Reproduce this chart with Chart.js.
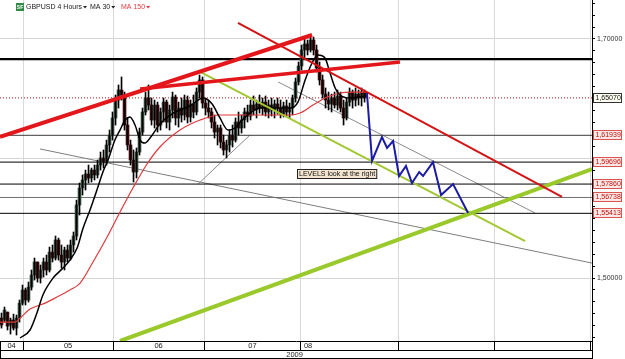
<!DOCTYPE html>
<html><head><meta charset="utf-8">
<script src="https://cdn.jsdelivr.net/npm/chart.js@4.4.1/dist/chart.umd.min.js"></script>
<style>html,body{margin:0;padding:0;background:#fff;}#wrap{width:625px;height:359px;position:relative;}</style>
</head><body><div id="wrap"><canvas id="c"></canvas></div>
<script>
// ---- data (x = bar number, y = GBPUSD price) ----
const candleOpen = [1.4665,1.4648,1.4715,1.4606,1.4648,1.4581,1.4665,1.4790,1.4899,1.4816,1.4924,1.5025,1.5134,1.5000,1.5067,1.5134,1.5067,1.5217,1.5167,1.5318,1.5192,1.5134,1.5234,1.5167,1.5276,1.5351,1.5611,1.5753,1.5820,1.5870,1.5837,1.5903,1.5862,1.5945,1.6004,1.5970,1.6113,1.6196,1.6339,1.6489,1.6573,1.6531,1.6280,1.6113,1.5987,1.5887,1.6054,1.6221,1.6389,1.6506,1.6447,1.6322,1.6447,1.6280,1.6389,1.6472,1.6305,1.6406,1.6514,1.6339,1.6422,1.6364,1.6489,1.6347,1.6456,1.6389,1.6556,1.6657,1.6464,1.6422,1.6389,1.6305,1.6221,1.6255,1.6138,1.6071,1.6113,1.6196,1.6154,1.6305,1.6255,1.6322,1.6389,1.6355,1.6447,1.6406,1.6456,1.6422,1.6472,1.6389,1.6447,1.6406,1.6456,1.6422,1.6372,1.6439,1.6389,1.6422,1.6506,1.6640,1.6774,1.6908,1.6958,1.6908,1.6991,1.6908,1.6757,1.6657,1.6539,1.6489,1.6456,1.6506,1.6447,1.6523,1.6422,1.6339,1.6472,1.6556,1.6489,1.6539,1.6506,1.6556];
const candleHigh = [1.4707,1.4757,1.4715,1.4665,1.4698,1.4690,1.4816,1.4941,1.4916,1.4966,1.5067,1.5167,1.5134,1.5109,1.5167,1.5192,1.5259,1.5276,1.5351,1.5334,1.5276,1.5259,1.5276,1.5318,1.5385,1.5652,1.5795,1.5862,1.5903,1.5945,1.5920,1.5945,1.5987,1.6054,1.6071,1.6154,1.6238,1.6389,1.6531,1.6615,1.6682,1.6556,1.6339,1.6154,1.6071,1.6088,1.6255,1.6422,1.6556,1.6615,1.6506,1.6489,1.6472,1.6422,1.6506,1.6489,1.6447,1.6556,1.6531,1.6472,1.6506,1.6531,1.6523,1.6489,1.6531,1.6590,1.6698,1.6682,1.6506,1.6489,1.6422,1.6364,1.6280,1.6280,1.6196,1.6154,1.6238,1.6280,1.6339,1.6389,1.6364,1.6422,1.6447,1.6489,1.6523,1.6489,1.6531,1.6506,1.6523,1.6489,1.6506,1.6489,1.6506,1.6489,1.6472,1.6489,1.6464,1.6531,1.6673,1.6807,1.6949,1.7008,1.6991,1.7033,1.7016,1.6949,1.6807,1.6698,1.6590,1.6556,1.6539,1.6556,1.6573,1.6556,1.6489,1.6506,1.6590,1.6573,1.6590,1.6573,1.6590,1.6573];
const candleLow = [1.4581,1.4631,1.4565,1.4531,1.4565,1.4523,1.4631,1.4774,1.4774,1.4799,1.4899,1.4983,1.4966,1.4958,1.5008,1.5025,1.5050,1.5134,1.5150,1.5150,1.5083,1.5067,1.5134,1.5150,1.5217,1.5318,1.5527,1.5694,1.5736,1.5795,1.5803,1.5820,1.5837,1.5903,1.5920,1.5945,1.6054,1.6154,1.6280,1.6422,1.6489,1.6238,1.6071,1.5945,1.5803,1.5837,1.6029,1.6196,1.6364,1.6406,1.6280,1.6255,1.6221,1.6238,1.6305,1.6255,1.6238,1.6339,1.6280,1.6263,1.6305,1.6322,1.6297,1.6305,1.6339,1.6364,1.6506,1.6422,1.6364,1.6339,1.6255,1.6171,1.6113,1.6088,1.6029,1.6004,1.6054,1.6096,1.6138,1.6196,1.6213,1.6255,1.6305,1.6322,1.6364,1.6339,1.6380,1.6364,1.6355,1.6339,1.6355,1.6339,1.6372,1.6339,1.6347,1.6355,1.6339,1.6364,1.6472,1.6615,1.6740,1.6841,1.6866,1.6891,1.6866,1.6724,1.6615,1.6506,1.6422,1.6406,1.6389,1.6422,1.6406,1.6389,1.6280,1.6322,1.6439,1.6422,1.6439,1.6447,1.6439,1.6472];
const candleClose = [1.4606,1.4732,1.4598,1.4648,1.4581,1.4665,1.4790,1.4899,1.4816,1.4924,1.5025,1.5134,1.5000,1.5067,1.5134,1.5067,1.5217,1.5167,1.5318,1.5192,1.5134,1.5234,1.5167,1.5276,1.5351,1.5611,1.5753,1.5820,1.5870,1.5837,1.5903,1.5862,1.5945,1.6004,1.5970,1.6113,1.6196,1.6339,1.6489,1.6573,1.6531,1.6280,1.6113,1.5987,1.5887,1.6054,1.6221,1.6389,1.6506,1.6447,1.6322,1.6447,1.6280,1.6389,1.6472,1.6305,1.6406,1.6514,1.6339,1.6422,1.6364,1.6489,1.6347,1.6456,1.6389,1.6556,1.6657,1.6464,1.6422,1.6389,1.6305,1.6221,1.6255,1.6138,1.6071,1.6113,1.6196,1.6154,1.6305,1.6255,1.6322,1.6389,1.6355,1.6447,1.6406,1.6456,1.6422,1.6472,1.6389,1.6447,1.6406,1.6456,1.6422,1.6372,1.6439,1.6389,1.6422,1.6506,1.6640,1.6774,1.6908,1.6958,1.6908,1.6991,1.6908,1.6757,1.6657,1.6539,1.6489,1.6456,1.6506,1.6447,1.6523,1.6422,1.6339,1.6472,1.6556,1.6489,1.6539,1.6506,1.6556,1.6507];

// moving averages [bar, price]
const ma30 = [[6.7,1.4498],[10,1.4565],[12.3,1.4707],[14.3,1.4858],[17.7,1.5000],[21,1.5083],[23.3,1.5150],[25.7,1.5251],[27.7,1.5418],[30,1.5569],[32.3,1.5736],[34.3,1.5887],[36,1.5987],[38.3,1.6154],[40,1.6238],[41.7,1.6322],[43.3,1.6347],[45,1.6280],[46.7,1.6154],[48.3,1.6129],[50,1.6171],[53.3,1.6288],[57.7,1.6380],[63.3,1.6439],[67.7,1.6506],[70.7,1.6456],[73.3,1.6339],[76,1.6238],[78.3,1.6255],[80.7,1.6322],[83.3,1.6380],[86.7,1.6422],[91.7,1.6422],[96.7,1.6422],[99.3,1.6472],[101.7,1.6657],[104,1.6799],[106,1.6866],[108.3,1.6841],[110,1.6715],[111.7,1.6590],[113.3,1.6531],[116.7,1.6506],[120,1.6514],[122.3,1.6523]];
const ma150 = [[0,1.4631],[5,1.4631],[6.7,1.4665],[10,1.4740],[15,1.4790],[19,1.4841],[23.3,1.4899],[26.7,1.4958],[31,1.5134],[35.7,1.5343],[40,1.5552],[44.3,1.5753],[49,1.5954],[53.3,1.6096],[60,1.6238],[66.7,1.6322],[73.3,1.6364],[86.7,1.6364],[96.7,1.6364],[100,1.6380],[104.3,1.6447],[109,1.6514],[113.3,1.6548],[117.7,1.6556],[122.3,1.6556]];

// drawn lines [bar, price]
const redTrendUpper = [[0,1.6180],[104,1.7033]];
const redTrendLower = [[46.7,1.6581],[133.3,1.6807]];
const redChannel = [[79.3,1.7134],[187.3,1.5678]];
const greenChannel = [[66.7,1.6724],[175,1.5309]];
const greenSupport = [[40,1.4473],[197.3,1.5912]];
const grayFan = [[13.3,1.6080],[197.3,1.5125]];
const grayRise = [[66,1.5786],[83.3,1.6196]];
const grayChannel = [[92.7,1.6640],[178.3,1.5544]];
const projection = [[122.3,1.6548],[124,1.5979],[127.3,1.6180],[129,1.6088],[131,1.6146],[133,1.5853],[135.3,1.5937],[137.3,1.5795],[139.7,1.5887],[141,1.5853],[144.3,1.5970],[147,1.5694],[151,1.5786],[156,1.5544]];

// horizontal levels
const resistance = 1.6832;
const levelPrices = [1.65070, 1.61939, 1.59696, 1.57860, 1.56738, 1.55413];
const levelLabels = ['1,65070','1,61939','1,59696','1,57860','1,56738','1,55413'];

// axes
const xMax = 197.3;
const yMin = 1.4473, yMax = 1.7326;
const yGridPrices = [1.50, 1.60, 1.70];
const yTickLabels = {'1.7':'1,70000', '1.5':'1,50000'};
const monthStarts = [7.7, 37.7, 68, 100.3, 132.7, 164.7, 196.7];
const monthNames = ['04','05','06','07','08','','',''];
const yearLabel = '2009';
const noteText = 'LEVELS look at the right';
const noteAnchor = [99, 1.5874];

// ---- chart ----
const FONT = '"Liberation Sans", Arial, sans-serif';
const pts = a => a.map(p => ({x:p[0], y:p[1]}));
const line = (data, color, width, order, extra) => Object.assign({type:'line', data: pts(data), borderColor: color, borderWidth: width, pointRadius: 0, tension: 0, order, clip: 0}, extra||{});

const levelStyles = [
  {color:'#a31515', dash:[1,2]},
  {color:'#3a3a3a'},{color:'#000'},{color:'#000'},{color:'#707070'},{color:'#000'}
];

const datasets = [
  line(projection, '#1b1ba6', 2, 1),
  line(redTrendUpper, '#e3171b', 4, 2),
  line(redTrendLower, '#e3171b', 3.5, 2),
  line(redChannel, '#d41414', 2, 2),
  line(greenSupport, '#99c92b', 4, 3),
  line(greenChannel, '#a2c832', 2, 3),
  line(ma30, '#000', 1.5, 4, {tension: 0.4, cubicInterpolationMode: 'monotone'}),
  line(ma150, '#e0393b', 1.2, 4, {tension: 0.4, cubicInterpolationMode: 'monotone'}),
  {type:'bar', data: candleHigh.map((h,i)=>({x:i+0.5, y:[candleLow[i], h]})), backgroundColor:'#000', barThickness:1, grouped:false, order:5},
  {type:'bar', data: candleOpen.map((o,i)=>({x:i+0.5, y:[o, candleClose[i]]})),
   backgroundColor: candleOpen.map((o,i)=> candleClose[i] >= o ? '#3f5848' : '#561010'),
   borderColor: '#000', borderWidth: 0,
   barThickness:3, grouped:false, order:6, minBarLength:1},
  line([[0,resistance],[xMax,resistance]], '#000', 2.2, 7),
  ...levelPrices.map((v,k)=> line([[0,v],[xMax,v]], levelStyles[k].color, 1, 7, levelStyles[k].dash ? {borderDash: levelStyles[k].dash} : {})),
  line(grayFan, '#7d7d7d', 1, 8),
  line(grayRise, '#8a8a8a', 1, 8),
  line(grayChannel, '#8a8a8a', 1, 8)
];

const overlay = {
  id: 'overlay',
  afterDraw(chart) {
    const c = chart.ctx, xs = chart.scales.x, ys = chart.scales.y, a = chart.chartArea;
    c.save();
    // bottom band
    c.strokeStyle = '#000'; c.lineWidth = 1;
    c.beginPath();
    c.moveTo(0, 350.5); c.lineTo(a.right, 350.5);
    c.moveTo(0, 358.5); c.lineTo(a.right, 358.5);
    c.moveTo(0.5, a.bottom); c.lineTo(0.5, 359);
    c.moveTo(a.right + 0.5, 0); c.lineTo(a.right + 0.5, 359);
    c.stroke();
    c.font = '7.5px ' + FONT; c.fillStyle = '#222'; c.textBaseline = 'middle';
    const bounds = [xs.min, ...monthStarts];
    for (let k = 0; k < bounds.length; k++) {
      const name = monthNames[k];
      if (!name) continue;
      const x0 = xs.getPixelForValue(bounds[k]);
      const x1 = k + 1 < bounds.length ? xs.getPixelForValue(bounds[k+1]) : a.right;
      if (monthNames[k+1]) { c.textAlign = 'center'; c.fillText(name, (x0 + x1) / 2, 346); }
      else {
        c.textAlign = 'left'; c.fillText(name, x0 + 3, 346);
        c.textAlign = 'right'; c.fillText(yearLabel, x0 + 2, 354.5);
      }
    }
    // level boxes on axis
    c.font = '7px ' + FONT; c.textAlign = 'left'; c.textBaseline = 'middle';
    levelPrices.forEach((v, k) => {
      const y = Math.round(ys.getPixelForValue(v));
      const first = k === 0;
      c.fillStyle = first ? '#fffff4' : '#fde8e6';
      c.strokeStyle = first ? '#333' : '#d9534f';
      c.fillRect(a.right + 1.5, y - 4.5, 28, 9);
      c.strokeRect(a.right + 1.5, y - 4.5, 28, 9);
      c.fillStyle = first ? '#111' : '#c0100c';
      c.fillText(levelLabels[k], a.right + 3.5, y + 0.5);
    });
    // note box
    const nx = Math.round(xs.getPixelForValue(noteAnchor[0])), ny = Math.round(ys.getPixelForValue(noteAnchor[1]));
    c.font = '7px ' + FONT;
    const tw = c.measureText(noteText).width;
    c.fillStyle = '#f3e4cf'; c.strokeStyle = '#222';
    c.fillRect(nx + 0.5, ny - 4.5, tw + 3, 9);
    c.strokeRect(nx + 0.5, ny - 4.5, tw + 3, 9);
    c.fillStyle = '#111'; c.textAlign = 'left';
    c.fillText(noteText, nx + 2, ny + 0.5);
    // header
    c.fillStyle = '#2f8a45'; c.fillRect(16, 3, 8, 8);
    c.fillStyle = '#fff'; c.font = 'bold 5px ' + FONT; c.textAlign = 'center';
    c.fillText('SF', 20, 7.5);
    c.font = '7px ' + FONT; c.textAlign = 'left';
    const items = [['GBPUSD 4 Hours', '#222', 26], ['MA 30', '#222', 90], ['MA 150', '#e0393b', 121]];
    items.forEach(([t, col, x]) => {
      c.fillStyle = col; c.fillText(t, x, 7);
      const w = c.measureText(t).width;
      c.beginPath(); c.moveTo(x + w + 1, 6); c.lineTo(x + w + 5, 6); c.lineTo(x + w + 3, 8.5); c.closePath(); c.fill();
    });
    c.restore();
  }
};

new Chart(document.getElementById('c'), {
  type: 'bar',
  data: { datasets },
  plugins: [overlay],
  options: {
    responsive: true, maintainAspectRatio: false, animation: false, events: [],
    layout: { padding: 0 },
    plugins: { legend: { display: false }, tooltip: { enabled: false } },
    scales: {
      x: {
        type: 'linear', min: 0, max: xMax, offset: false,
        afterBuildTicks(s) { s.ticks = monthStarts.map(v => ({value: v})); },
        afterFit(s) { s.height = 18; s.paddingLeft = 0; s.paddingRight = 0; },
        grid: { color: '#d9d9d9', tickColor: '#000', tickLength: 9, offset: false },
        border: { display: true, color: '#000' },
        ticks: { display: false, autoSkip: false }
      },
      y: {
        type: 'linear', position: 'right', min: yMin, max: yMax,
        afterFit(s) { s.width = 33; s.paddingTop = 0; s.paddingBottom = 0; },
        border: { display: true, color: '#000' },
        grid: {
          color: c => yGridPrices.some(v => Math.abs(v - c.tick.value) < 1e-6) ? '#d6d6d6' : 'rgba(0,0,0,0)',
          tickColor: '#000', tickLength: 3
        },
        ticks: {
          stepSize: 0.01, includeBounds: false, autoSkip: false, padding: 2, color: '#333',
          font: { size: 7, family: FONT },
          callback: v => yTickLabels[String(Math.round(v * 100) / 100)] || ''
        }
      }
    }
  }
});
</script>
</body></html>
